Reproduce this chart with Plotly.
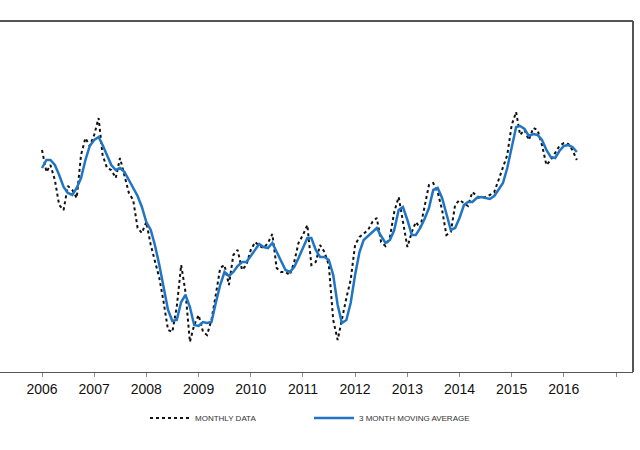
import pandas as pd
import plotly.graph_objects as go

# Values (height above the axis, arbitrary index units)
monthly_px = [150,172,165,180,205,210,186,190,198,155,138,146,135,118,155,168,170,178,158,175,
              193,200,228,233,222,245,262,278,302,330,332,307,265,292,342,325,315,332,335,320,
              295,268,265,285,255,250,270,265,250,242,246,248,243,234,268,272,272,275,262,243,
              235,225,265,262,245,252,265,320,340,318,298,280,245,237,234,230,222,218,242,246,
              237,212,197,222,247,232,222,228,205,185,183,192,210,235,232,205,200,203,206,192,
              196,198,197,195,192,180,168,155,125,112,135,130,140,128,130,145,165,160,153,146,
              143,144,150,160]
ma_px = [168,160,160,165,175,187,193,195,188,178,160,146,140,137,145,155,165,170,168,172,
         180,188,196,207,222,230,245,265,287,310,321,320,302,295,307,325,326,322,323,322,
         303,285,272,276,272,266,262,262,256,250,244,247,248,243,252,262,270,272,267,258,
         248,238,238,250,257,257,260,275,305,323,320,303,275,252,240,236,232,228,236,243,
         240,230,210,207,220,235,235,228,219,208,190,188,198,213,230,228,218,205,202,202,
         198,197,198,199,196,190,183,168,148,127,126,129,136,134,135,140,150,157,158,151,
         146,145,147,152]
monthly = [372 - v for v in monthly_px]
moving_avg = [372 - v for v in ma_px]
dates = pd.date_range("2006-01-01", periods=len(monthly), freq="MS")
years = [str(y) for y in range(2006, 2018)]
tick_labels = [y if y != "2017" else "" for y in years]

fig = go.Figure()
fig.add_trace(go.Scatter(x=dates, y=monthly, mode="lines", name="MONTHLY DATA",
                         line=dict(color="#111111", width=2, dash="dot"), legend="legend"))
fig.add_trace(go.Scatter(x=dates, y=moving_avg, mode="lines", name="3 MONTH MOVING AVERAGE",
                         line=dict(color="#2076c4", width=2.5), legend="legend2"))

fig.update_layout(
    width=640, height=450,
    margin=dict(l=0, r=7, t=21, b=78),
    paper_bgcolor="white", plot_bgcolor="white",
    showlegend=True,
    xaxis=dict(range=["2005-03-13", "2017-04-29"], tickvals=[f"{y}-01-01" for y in years],
               ticktext=tick_labels, showgrid=False, zeroline=False, showline=True,
               linecolor="#555555", linewidth=1, ticks="outside", ticklen=4, tickcolor="#888888",
               tickfont=dict(family="Liberation Sans, Arial", size=14, color="#111111")),
    yaxis=dict(range=[0, 351], showgrid=False, zeroline=False, showticklabels=False,
               showline=False),
    legend=dict(x=145/633, y=-0.131, xanchor="left", yanchor="middle", orientation="h",
                font=dict(family="Liberation Sans, Arial", size=8, color="#333333"),
                itemwidth=40, bgcolor="rgba(0,0,0,0)"),
    legend2=dict(x=309/633, y=-0.131, xanchor="left", yanchor="middle", orientation="h",
                 font=dict(family="Liberation Sans, Arial", size=8, color="#333333"),
                 itemwidth=40, bgcolor="rgba(0,0,0,0)"),
    shapes=[
        dict(type="line", xref="paper", yref="paper", x0=0, x1=1, y0=1, y1=1,
             line=dict(color="#555555", width=2)),
        dict(type="line", xref="paper", yref="paper", x0=1, x1=1, y0=0, y1=1,
             line=dict(color="#555555", width=2)),
    ],
)

fig.write_html("out.html")
